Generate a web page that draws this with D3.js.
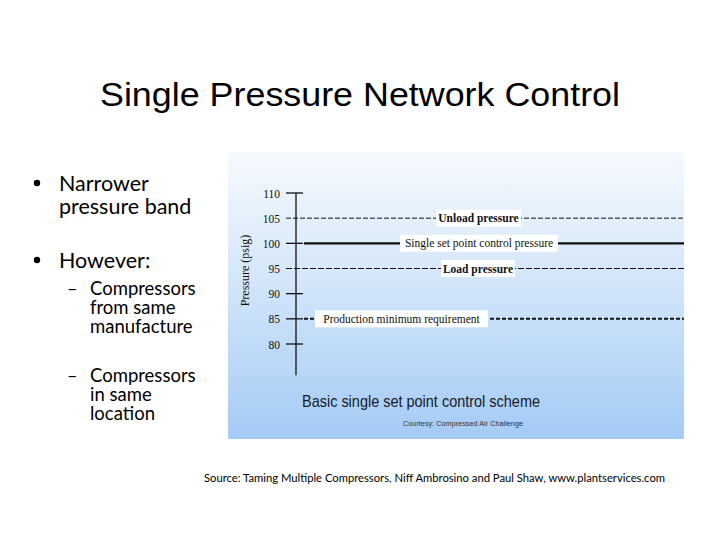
<!DOCTYPE html>
<html>
  <head>
    <meta http-equiv="Content-Type" content="text/html; charset=UTF-8" />
    <title>Single Pressure Network Control</title>
    <style>
      body { margin: 0; background: #fff; }
      svg { display: block; }
    </style>
  </head>
  <body>
    <div id="slide"></div>
    <script src="https://cdnjs.cloudflare.com/ajax/libs/d3/7.8.5/d3.min.js"></script>
    <script>
// data
const pressureTicks = [110, 105, 100, 95, 90, 85, 80];
const levelNames = ['Unload pressure', 'Single set point control pressure', 'Load pressure', 'Production minimum requirement'];
const levelValues = [105, 100, 95, 85];
const bulletLines = [['Narrower', 'pressure band'], ['However:']];
const subBulletLines = [['Compressors', 'from same', 'manufacture'], ['Compressors', 'in same', 'location']];

const W = 720, H = 540;
const svg = d3.select('#slide').append('svg')
  .attr('width', W)
  .attr('height', H);

svg.append('rect').attr('width', W).attr('height', H).attr('fill', '#fff');

// title
svg.append('text')
  .attr('x', 360).attr('y', 106)
  .attr('text-anchor', 'middle')
  .attr('font-family', 'Liberation Sans, Arial, sans-serif')
  .attr('font-size', 33)
  .attr('textLength', 520)
  .attr('lengthAdjust', 'spacingAndGlyphs')
  .attr('fill', '#000')
  .text('Single Pressure Network Control');

// bullets on the left
const left = svg.append('g').attr('font-family', 'Lato, Open Sans, sans-serif').attr('fill', '#000');
const bulletTop = [191, 268];
bulletLines.forEach((lines, i) => {
  left.append('circle').attr('cx', 37).attr('cy', bulletTop[i] - 8).attr('r', 3.2);
  lines.forEach((t, j) => {
    left.append('text')
      .attr('x', 59).attr('y', bulletTop[i] + j * 23)
      .attr('font-size', 21.5)
      .text(t);
  });
});
const subTop = [295, 382];
subBulletLines.forEach((lines, i) => {
  left.append('text').attr('x', 67).attr('y', subTop[i]).attr('font-size', 18).text('–');
  lines.forEach((t, j) => {
    left.append('text')
      .attr('x', 90).attr('y', subTop[i] + j * 19)
      .attr('font-size', 18.5)
      .text(t);
  });
});

// picture panel
const panel = {x: 228, y: 152, w: 456, h: 287};
const defs = svg.append('defs');
const grad = defs.append('linearGradient').attr('id', 'bg').attr('x1', 0).attr('y1', 0).attr('x2', 0).attr('y2', 1);
grad.append('stop').attr('offset', '0%').attr('stop-color', '#f7fafe');
grad.append('stop').attr('offset', '45%').attr('stop-color', '#d3e6fa');
grad.append('stop').attr('offset', '100%').attr('stop-color', '#a4cbf5');
svg.append('rect')
  .attr('x', panel.x).attr('y', panel.y)
  .attr('width', panel.w).attr('height', panel.h)
  .attr('fill', 'url(#bg)');

const y = d3.scaleLinear().domain([80, 110]).range([344, 193]);
const axisX = 296;
const right = panel.x + panel.w;

const chart = svg.append('g').attr('font-family', 'Liberation Serif, Times New Roman, serif');

// axis
const axis = d3.axisLeft(y)
  .tickValues(pressureTicks)
  .tickSize(0)
  .tickPadding(0)
  .tickFormat(d3.format('d'));
const ax = chart.append('g').attr('transform', `translate(${axisX - 16},0)`).call(axis);
ax.select('.domain').remove();
ax.selectAll('text').attr('font-size', 11.5).attr('font-family', 'Liberation Serif, serif').attr('fill', '#111').attr('dy', '0.35em');

chart.append('line')
  .attr('x1', axisX).attr('x2', axisX)
  .attr('y1', y(110)).attr('y2', y(73.8))
  .attr('stroke', '#111').attr('stroke-width', 1.3);

chart.selectAll('.tick-mark')
  .data(pressureTicks.filter(d => !levelValues.includes(d) || d === 100 || d === 85))
  .enter().append('line')
  .attr('class', 'tick-mark')
  .attr('x1', axisX - 10).attr('x2', axisX + 7)
  .attr('y1', d => y(d)).attr('y2', d => y(d))
  .attr('stroke', '#111').attr('stroke-width', 1.3);

chart.append('text')
  .attr('transform', `translate(249,${y(95) + 2}) rotate(-90)`)
  .attr('text-anchor', 'middle')
  .attr('font-size', 12)
  .attr('fill', '#111')
  .text('Pressure (psig)');

// pressure levels
const levelStyle = {
  'Unload pressure': {x0: axisX - 10, dash: '5,2', width: 1, box: [436, 521], weight: 'bold'},
  'Single set point control pressure': {x0: axisX + 8, dash: null, width: 2.4, box: [400, 558], weight: 'normal'},
  'Load pressure': {x0: axisX - 10, dash: '6,2', width: 1.1, box: [441, 515], weight: 'bold'},
  'Production minimum requirement': {x0: axisX + 8, dash: '4,2', width: 2, box: [315, 488], weight: 'normal'}
};

const lv = chart.selectAll('.level')
  .data(levelNames.map((n, i) => ({name: n, value: levelValues[i]})))
  .enter().append('g').attr('class', 'level');

lv.append('line')
  .attr('x1', d => levelStyle[d.name].x0).attr('x2', right)
  .attr('y1', d => y(d.value)).attr('y2', d => y(d.value))
  .attr('stroke', '#111')
  .attr('stroke-width', d => levelStyle[d.name].width)
  .attr('stroke-dasharray', d => levelStyle[d.name].dash);

lv.append('rect')
  .attr('x', d => levelStyle[d.name].box[0])
  .attr('width', d => levelStyle[d.name].box[1] - levelStyle[d.name].box[0])
  .attr('y', d => y(d.value) - 8.5)
  .attr('height', 17)
  .attr('fill', '#fff');

lv.append('text')
  .attr('x', d => (levelStyle[d.name].box[0] + levelStyle[d.name].box[1]) / 2)
  .attr('y', d => y(d.value))
  .attr('dy', '0.35em')
  .attr('text-anchor', 'middle')
  .attr('font-size', 11.5)
  .attr('font-weight', d => levelStyle[d.name].weight)
  .attr('fill', '#111')
  .text(d => d.name);

// caption inside picture
chart.append('text')
  .attr('x', 302).attr('y', 407)
  .attr('font-family', 'Liberation Sans, Arial, sans-serif')
  .attr('font-size', 17)
  .attr('textLength', 238)
  .attr('lengthAdjust', 'spacingAndGlyphs')
  .attr('fill', '#1a1a2a')
  .text('Basic single set point control scheme');

chart.append('text')
  .attr('x', 403).attr('y', 426)
  .attr('font-family', 'Liberation Sans, Arial, sans-serif')
  .attr('font-size', 8)
  .attr('textLength', 120)
  .attr('lengthAdjust', 'spacingAndGlyphs')
  .attr('fill', '#333')
  .text('Courtesy: Compressed Air Challenge');

// source line
svg.append('text')
  .attr('x', 204).attr('y', 482)
  .attr('font-family', 'Lato, Open Sans, sans-serif')
  .attr('font-size', 11)
  .attr('textLength', 461)
  .attr('lengthAdjust', 'spacingAndGlyphs')
  .attr('fill', '#000')
  .text('Source: Taming Multiple Compressors, Niff Ambrosino and Paul Shaw, www.plantservices.com');
    </script>
  </body>
</html>
